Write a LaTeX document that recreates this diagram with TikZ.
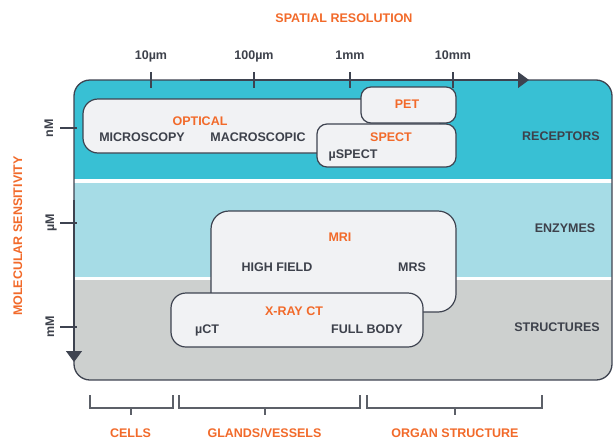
\documentclass[tikz,border=0pt]{standalone}
\usepackage{fontspec}
\setmainfont{Liberation Sans}
\usepackage{xcolor}
\usepackage{tikz}
\usetikzlibrary{arrows.meta, positioning}

\definecolor{accent}{HTML}{F26A2A}
\definecolor{ink}{HTML}{3D414B}
\definecolor{edge}{HTML}{3E4350}
\definecolor{receptorband}{HTML}{38C0D4}
\definecolor{enzymeband}{HTML}{A6DCE6}
\definecolor{structureband}{HTML}{CDD0CF}
\definecolor{panel}{HTML}{F1F2F4}
\definecolor{bracketgray}{HTML}{5C6068}

\begin{document}
\begin{tikzpicture}[
    x=1pt, y=-1pt,
    bodytext/.style={font=\fontsize{12.5}{14}\selectfont\bfseries, text=ink, inner sep=0pt, text height=9pt, text depth=0pt},
    headtext/.style={bodytext, text=accent},
    modality/.style={rectangle, draw=edge, line width=1.2pt, fill=panel, anchor=north west, outer sep=0pt, inner sep=0pt},
    frame/.style={draw=edge, line width=1.3pt, rounded corners=16pt},
    axis/.style={draw=edge, line width=1.3pt, -{Triangle[length=11pt, width=16pt]}},
    tickline/.style={draw=edge, line width=1.1pt},
    bracket/.style={draw=bracketgray, line width=1.1pt}
]
    \fill[white] (0,0) rectangle (613,442);
    \useasboundingbox (0,0) rectangle (613,442);

    \begin{scope}
        \clip[rounded corners=16pt] (74,80) rectangle (612,380);
        \fill[receptorband] (74,80) rectangle (612,179);
        \fill[enzymeband] (74,183) rectangle (612,277);
        \fill[structureband] (74,280) rectangle (612,380);
    \end{scope}
    \draw[frame] (74,80) rectangle (612,380);

    \coordinate (xstart) at (200,80);
    \coordinate (xend) at (529,80);
    \coordinate (ystart) at (74,200);
    \coordinate (yend) at (74,362);
    \draw[axis] (xstart) -- (xend);
    \draw[axis] (ystart) -- (yend);

    \draw[tickline] (151,72) -- (151,88);
    \draw[tickline] (254,72) -- (254,88);
    \draw[tickline] (350,72) -- (350,88);
    \draw[tickline] (453,72) -- (453,88);
    \draw[tickline] (60,128) -- (77,128);
    \draw[tickline] (60,223) -- (77,223);
    \draw[tickline] (60,327) -- (77,327);

    \node[headtext] (spatial) at (344,18) {SPATIAL RESOLUTION};
    \node[bodytext] (tenmu) at (151,55) {10µm};
    \node[bodytext] (hundredmu) at (254,55) {100µm};
    \node[bodytext] (onemm) at (350,55) {1mm};
    \node[bodytext] (tenmm) at (453,55) {10mm};

    \node[headtext, rotate=90] (molecular) at (17.5,236) {MOLECULAR SENSITIVITY};
    \node[bodytext, rotate=90] (nano) at (48.5,128) {nM};
    \node[bodytext, rotate=90] (micro) at (49.5,223) {µM};
    \node[bodytext, rotate=90] (milli) at (49.5,327) {mM};

    \node[bodytext] (receptors) at (561,136) {RECEPTORS};
    \node[bodytext] (enzymes) at (565,228) {ENZYMES};
    \node[bodytext] (structures) at (557,327) {STRUCTURES};

    \node[modality, rounded corners=15pt, minimum width=357pt, minimum height=54pt] (optical) at (83,99) {};
    \node[modality, rounded corners=10pt, minimum width=95pt, minimum height=36pt] (pet) at (361,87) {};
    \node[modality, rounded corners=10pt, minimum width=139pt, minimum height=43pt] (spect) at (317,124) {};
    \node[modality, rounded corners=18pt, minimum width=245pt, minimum height=101pt] (mri) at (211,211) {};
    \node[modality, rounded corners=15pt, minimum width=252pt, minimum height=54pt] (xray) at (171,293) {};

    \node[headtext] (opticaltitle) at (200,121) {OPTICAL};
    \node[bodytext] (microscopy) at (142,137) {MICROSCOPY};
    \node[bodytext] (macroscopic) at (258,137) {MACROSCOPIC};
    \node[headtext] (pettitle) at (407,104) {PET};
    \node[headtext] (specttitle) at (391,137) {SPECT};
    \node[bodytext] (muspect) at (353,154) {µSPECT};
    \node[headtext] (mrititle) at (340,237) {MRI};
    \node[bodytext] (highfield) at (277,267) {HIGH FIELD};
    \node[bodytext] (mrs) at (412,267) {MRS};
    \node[headtext] (xraytitle) at (294,311) {X-RAY CT};
    \node[bodytext] (muct) at (207,329) {µCT};
    \node[bodytext] (fullbody) at (367,329) {FULL BODY};

    \draw[bracket] (90,395) -- (90,408) -- (173,408) -- (173,395);
    \draw[bracket] (131,408) -- (131,415);
    \draw[bracket] (179,395) -- (179,408) -- (360,408) -- (360,395);
    \draw[bracket] (265,408) -- (265,415);
    \draw[bracket] (367,395) -- (367,408) -- (542,408) -- (542,395);
    \draw[bracket] (455,408) -- (455,415);

    \node[headtext] (cells) at (130.5,433) {CELLS};
    \node[headtext] (glands) at (264.5,433) {GLANDS/VESSELS};
    \node[headtext] (organ) at (455,433) {ORGAN STRUCTURE};
\end{tikzpicture}
\end{document}
